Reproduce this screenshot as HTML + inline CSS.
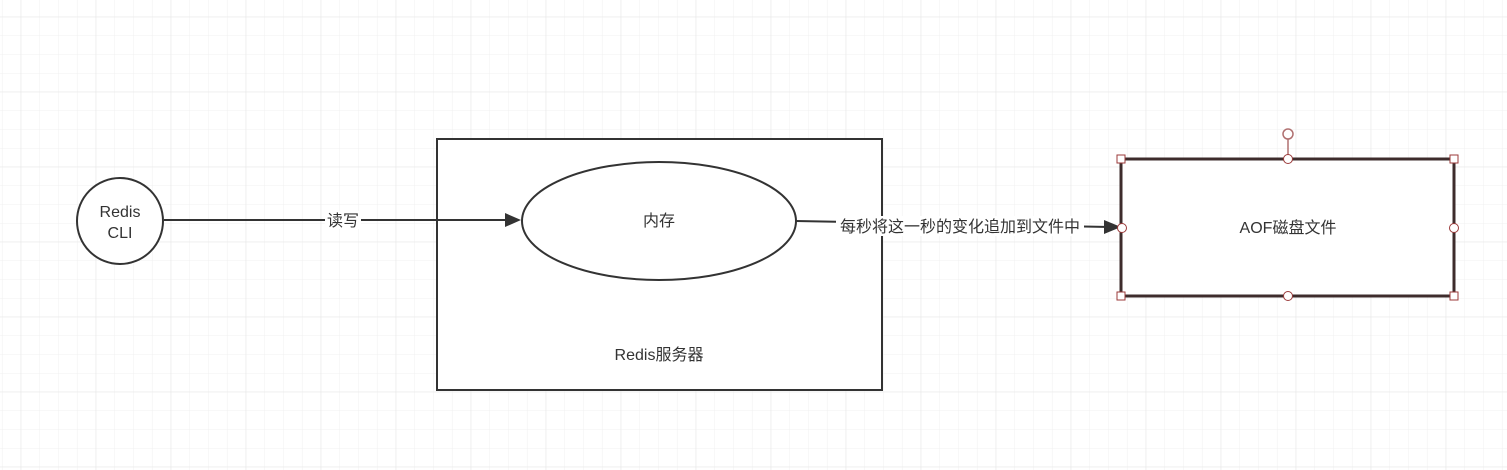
<!DOCTYPE html>
<html><head><meta charset="utf-8"><style>
html,body{margin:0;padding:0;width:1507px;height:470px;overflow:hidden;background:#fff}
</style></head><body>
<svg width="1507" height="470" xmlns="http://www.w3.org/2000/svg">
<defs>
<pattern id="minor" x="1.95" y="-2" width="18.75" height="18.75" patternUnits="userSpaceOnUse">
<path d="M0 0V18.75M0 0H18.75" stroke="#f0f0f0" stroke-width="1" fill="none"/>
</pattern>
<pattern id="major" x="20.7" y="16.7" width="75" height="75" patternUnits="userSpaceOnUse">
<path d="M0 0V75M0 0H75" stroke="#e6e6e6" stroke-width="1" fill="none"/>
</pattern>
</defs>
<rect width="1507" height="470" fill="url(#minor)"/>
<rect width="1507" height="470" fill="url(#major)"/>
<g font-family="Liberation Sans, Noto Sans CJK SC, sans-serif" font-size="16" fill="#333" text-anchor="middle">
<rect x="437" y="139" width="445" height="251" fill="#fff" stroke="#333" stroke-width="2"/>
<text x="659" y="360">Redis服务器</text>
<line x1="164" y1="220" x2="508" y2="220" stroke="#333" stroke-width="2"/>
<polygon points="521,220 505,213 505,227" fill="#333"/>
<rect x="325" y="211" width="36" height="18" fill="#fff"/>
<text x="343" y="226">读写</text>
<circle cx="120" cy="221" r="43" fill="#fff" stroke="#333" stroke-width="2"/>
<text x="120" y="217">Redis</text>
<text x="120" y="238">CLI</text>
<ellipse cx="659" cy="221" rx="137" ry="59" fill="#fff" stroke="#333" stroke-width="2"/>
<text x="659" y="226">内存</text>
<line x1="796" y1="221" x2="1110" y2="227" stroke="#333" stroke-width="2"/>
<polygon points="1121,227 1104,220 1104,234" fill="#333"/>
<rect x="836" y="216" width="248" height="20" fill="#fff"/>
<text x="960" y="232">每秒将这一秒的变化追加到文件中</text>
<rect x="1121" y="159" width="333" height="137" fill="#fff" stroke="#3e2c2c" stroke-width="3"/>
<text x="1288" y="233">AOF磁盘文件</text>
<line x1="1288" y1="139" x2="1288" y2="159" stroke="#b07070" stroke-width="1.5"/>
<circle cx="1288" cy="134" r="5" fill="#fff" stroke="#b07070" stroke-width="1.5"/>
<g fill="#fff" stroke="#9b3a3a" stroke-width="1">
<rect x="1117" y="155" width="8" height="8"/><rect x="1450" y="155" width="8" height="8"/>
<rect x="1117" y="292" width="8" height="8"/><rect x="1450" y="292" width="8" height="8"/>
<circle cx="1288" cy="159" r="4.5"/><circle cx="1288" cy="296" r="4.5"/>
<circle cx="1122" cy="228" r="4.5"/><circle cx="1454" cy="228" r="4.5"/>
</g>
</g>
</svg>
</body></html>
